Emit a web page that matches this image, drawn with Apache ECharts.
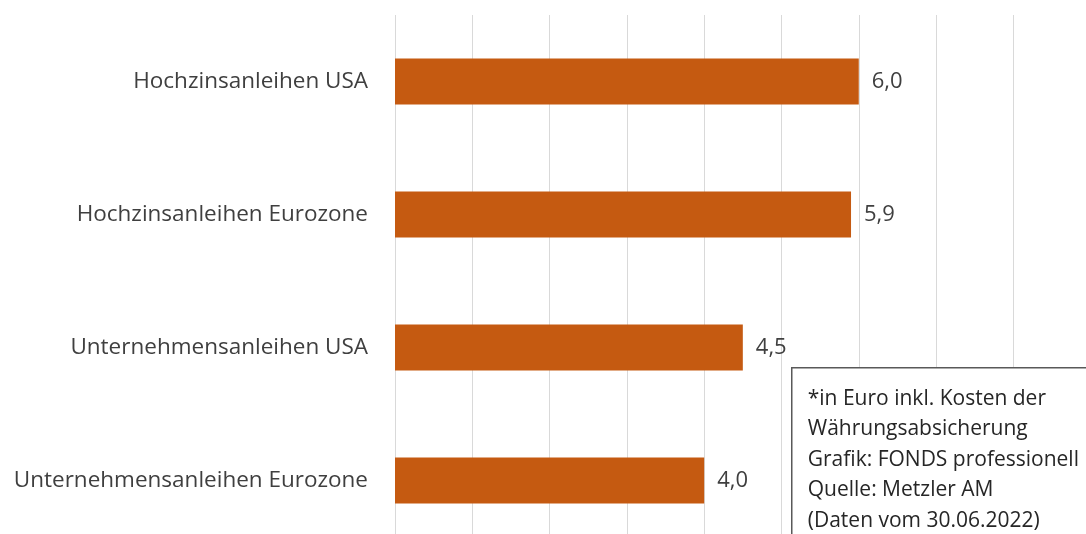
<!DOCTYPE html>
<html>
<head>
<meta charset="utf-8">
<script src="https://cdn.jsdelivr.net/npm/echarts@6/dist/echarts.min.js"></script>
<style>
  html, body { margin: 0; padding: 0; background: #ffffff; }
  #chart { width: 1086px; height: 534px; }
</style>
</head>
<body>
<div id="chart"></div>
<script>
// Erwartete Renditen nach Anleiheklasse (in %)
const categories = [
  'Hochzinsanleihen USA',
  'Hochzinsanleihen Eurozone',
  'Unternehmensanleihen USA',
  'Unternehmensanleihen Eurozone'
];
const values = [6.0, 5.9, 4.5, 4.0];
const noteLines = [
  '*in Euro inkl. Kosten der',
  'Währungsabsicherung',
  'Grafik: FONDS professionell',
  'Quelle: Metzler AM',
  '(Daten vom 30.06.2022)'
];

const FONT = '"Open Sans", "Noto Sans", sans-serif';
const chart = echarts.init(document.getElementById('chart'));

chart.setOption({
  animation: false,
  backgroundColor: '#ffffff',
  // the plot area runs past the lower edge of the canvas
  grid: {
    left: 395, right: 0, top: 15, height: 532,
    outerBoundsMode: 'none',
    containLabel: false
  },
  xAxis: {
    type: 'value',
    min: 0,
    max: 8.94,
    interval: 1,
    axisLine: { show: false },
    axisTick: { show: false },
    axisLabel: { show: false },
    splitLine: { show: true, showMaxLine: false, lineStyle: { color: '#d9d9d9', width: 1 } }
  },
  yAxis: {
    type: 'category',
    data: categories,
    inverse: true,
    axisLine: { show: false },
    axisTick: { show: false },
    axisLabel: {
      margin: 27,
      fontFamily: FONT,
      fontSize: 22.5,
      color: '#3f3f3f'
    }
  },
  series: [{
    type: 'bar',
    data: values,
    barWidth: 46,
    itemStyle: { color: '#c55a11' },
    label: {
      show: true,
      position: 'right',
      distance: 13,
      fontFamily: FONT,
      fontSize: 22,
      color: '#3f3f3f',
      formatter: p => p.value.toFixed(1).replace('.', ',')
    }
  }],
  graphic: [{
    type: 'group',
    left: 791,
    top: 367,
    z: 100,
    children: [
      {
        type: 'rect',
        z: 100,
        shape: { x: 0, y: 0, width: 320, height: 200 },
        style: { fill: '#ffffff', stroke: '#595959', lineWidth: 1.5 }
      },
      {
        type: 'text',
        z: 101,
        x: 16,
        y: 16,
        style: {
          text: noteLines.join('\n'),
          fontFamily: FONT,
          fontSize: 21,
          lineHeight: 30.5,
          fill: '#262626'
        }
      }
    ]
  }]
});
</script>
</body>
</html>
